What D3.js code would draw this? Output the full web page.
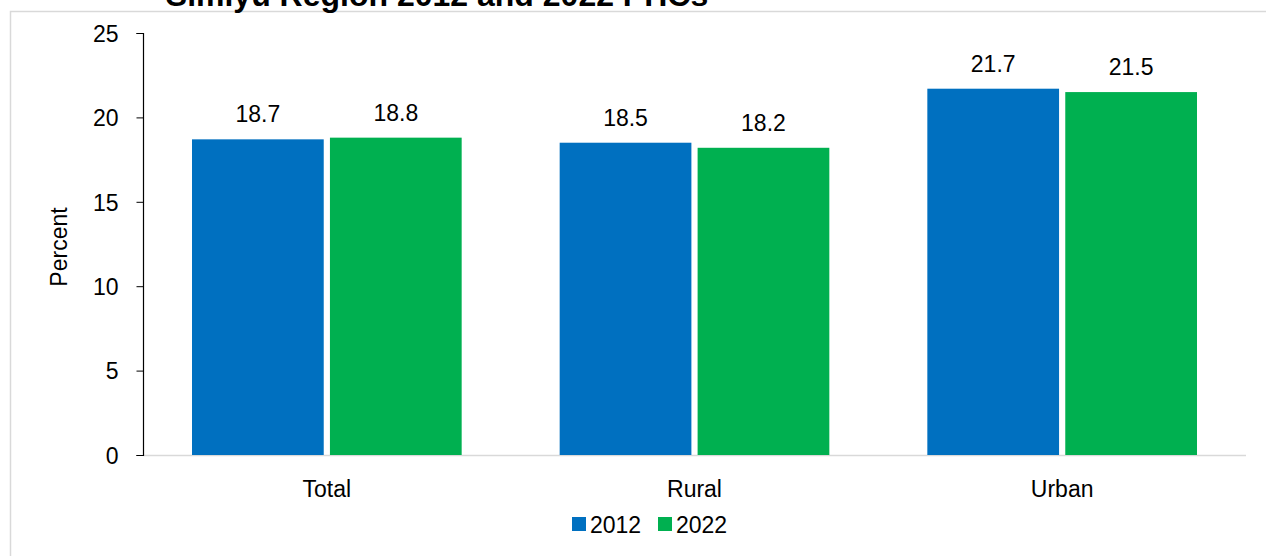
<!DOCTYPE html>
<html>
<head>
<meta charset="utf-8">
<script src="https://cdn.jsdelivr.net/npm/d3@7"></script>
<style>
html,body{margin:0;padding:0;background:#fff;}
svg{display:block;}
.n{font-family:"Liberation Sans",Arial,sans-serif;}
</style>
</head>
<body>
<svg id="chart" width="1266" height="556"></svg>
<script>
const title = "Simiyu Region 2012 and 2022 PHCs";
const categories = ["Total", "Rural", "Urban"];
const seriesNames = ["2012", "2022"];
const values2012 = [18.7, 18.5, 21.7];
const values2022 = [18.8, 18.2, 21.5];
const yTicks = [0, 5, 10, 15, 20, 25];
const colors = ["#0070C0", "#00B050"];
const yLabel = "Percent";

const svg = d3.select("#chart");
const FS = 23;

// frame
svg.append("rect").attr("x", 10.5).attr("y", 11.5).attr("width", 1270).attr("height", 560)
  .attr("fill", "none").attr("stroke", "#d9d9d9").attr("stroke-width", 1.5);

// title (partially clipped at top, as in the reference)
svg.append("text").attr("x", 437).attr("y", 6).attr("text-anchor", "middle")
  .attr("font-family", "Liberation Sans, Arial, sans-serif")
  .attr("font-size", 32).attr("font-weight", "bold").attr("fill", "#000").text(title);

const x0 = d3.scaleBand().domain(categories).range([143, 1246]).paddingInner(0).paddingOuter(0);
const x1 = d3.scaleBand().domain(seriesNames).range([49, x0.bandwidth() - 49]).paddingInner(0.045);
const y = d3.scaleLinear().domain([0, 25]).range([455, 33]);

const data = categories.map((c, i) => ({cat: c, vals: [values2012[i], values2022[i]]}));

// baseline
svg.append("line").attr("x1", 143).attr("x2", 1246).attr("y1", y(0) + 0.5).attr("y2", y(0) + 0.5)
  .attr("stroke", "#d9d9d9").attr("stroke-width", 1.5);

const g = svg.selectAll("g.cat").data(data).enter().append("g")
  .attr("transform", d => `translate(${x0(d.cat)},0)`);

g.selectAll("rect").data(d => d.vals.map((v, j) => ({v, s: seriesNames[j], j})))
  .enter().append("rect")
  .attr("x", d => x1(d.s)).attr("width", x1.bandwidth())
  .attr("y", d => y(d.v)).attr("height", d => y(0) - y(d.v))
  .attr("fill", d => colors[d.j]);

g.selectAll("text.val").data(d => d.vals.map((v, j) => ({v, s: seriesNames[j]})))
  .enter().append("text").attr("class", "val n")
  .attr("x", d => x1(d.s) + x1.bandwidth() / 2).attr("y", d => y(d.v) - 17)
  .attr("text-anchor", "middle").attr("font-size", FS).attr("fill", "#000")
  .text(d => d.v.toFixed(1));

// y axis
const yAxis = d3.axisLeft(y).tickValues(yTicks).tickSize(7).tickPadding(18);
const ya = svg.append("g").attr("transform", "translate(143.5,0)").call(yAxis);
ya.attr("font-family", null).attr("font-size", null);
ya.select(".domain").attr("stroke", "#000").attr("stroke-width", 1.2).attr("d", "M-7,33.5H0V455.5H-7");
ya.selectAll(".tick line").attr("stroke", "#000");
ya.selectAll(".tick text").attr("class", "n").attr("font-size", FS).attr("fill", "#000").attr("dy", "0.36em");

// x axis labels
const xAxis = d3.axisBottom(x0).tickSize(0).tickPadding(0);
const xa = svg.append("g").attr("transform", `translate(0,${y(0)})`).call(xAxis);
xa.attr("font-family", null).attr("font-size", null);
xa.select(".domain").remove();
xa.selectAll(".tick text").attr("class", "n").attr("font-size", FS).attr("fill", "#000")
  .attr("y", 42).attr("dy", null);

// y label
svg.append("text").attr("class", "n").attr("transform", "translate(67,247) rotate(-90)")
  .attr("text-anchor", "middle").attr("font-size", FS).attr("fill", "#000").text(yLabel);

// legend
const legX = [572, 658];
const leg = svg.selectAll("g.leg").data(seriesNames).enter().append("g")
  .attr("transform", (d, i) => `translate(${legX[i]},517)`);
leg.append("rect").attr("width", 14).attr("height", 14).attr("fill", (d, i) => colors[i]);
leg.append("text").attr("class", "n").attr("x", 18).attr("y", 16).attr("font-size", FS).attr("fill", "#000").text(d => d);
</script>
</body>
</html>
